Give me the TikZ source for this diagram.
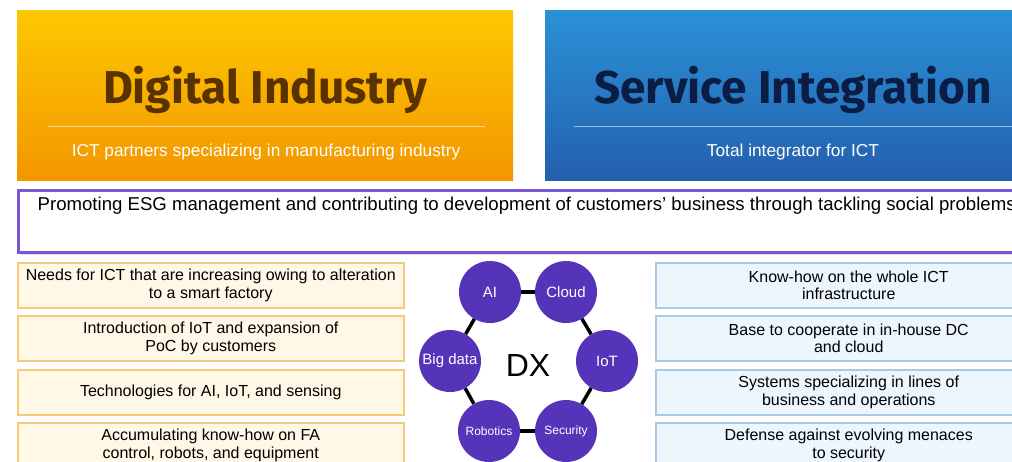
\documentclass[tikz,border=0pt]{standalone}
\usepackage{fontspec}
\setmainfont{Liberation Sans}
\newfontfamily\headfont{Fira Sans}
\usetikzlibrary{positioning,shadows}

\definecolor{diyellow}{HTML}{FDC800}
\definecolor{diorange}{HTML}{F39600}
\definecolor{dibrown}{HTML}{5A3200}
\definecolor{siblue}{HTML}{2A91D6}
\definecolor{sideep}{HTML}{2460AE}
\definecolor{sinavy}{HTML}{0B1D45}
\definecolor{esgpurple}{HTML}{7856D6}
\definecolor{dxviolet}{HTML}{5534BA}
\definecolor{needfill}{HTML}{FFF8E6}
\definecolor{needline}{HTML}{F8C978}
\definecolor{basefill}{HTML}{EEF6FD}
\definecolor{baseline}{HTML}{A9C9E9}

\tikzset{
  headbox/.style={anchor=north west, minimum width=496pt, minimum height=170pt, inner sep=0pt},
  headtitle/.style={font=\headfont\bfseries\fontsize{46}{50}\selectfont},
  headsub/.style={text=white, font=\fontsize{17.3}{20}\selectfont},
  card/.style={anchor=north west, minimum width=386pt, minimum height=45pt, inner sep=2pt,
    line width=1.5pt, align=center, font=\fontsize{16}{17.5}\selectfont},
  need/.style={card, draw=needline, fill=needfill},
  base/.style={card, draw=baseline, fill=basefill},
  tech/.style={circle, fill=dxviolet, text=white, minimum size=62pt, inner sep=0pt,
    font=\fontsize{15}{17}\selectfont},
  small tech/.style={tech, font=\fontsize{12}{14}\selectfont},
  link/.style={line width=3.5pt}
}

\begin{document}
\begin{tikzpicture}[x=1pt,y=-1pt]
\useasboundingbox (0,0) rectangle (1012,461);

% two business fields on top
\node[headbox, top color=diyellow, bottom color=diorange] (digital) at (17,10) {};
\node[headtitle, text=dibrown] (digitalname) at (265,90) {Digital Industry};
\draw[white!60!diorange, line width=1pt] (48,126) -- (485,126);
\node[headsub] (digitalsub) at (266,152) {ICT partners specializing in manufacturing industry};

\node[headbox, top color=siblue, bottom color=sideep] (service) at (545,10) {};
\node[headtitle, text=sinavy] (servicename) at (793,90) {Service Integration};
\draw[white!45!siblue, line width=1pt] (574,126) -- (1012,126);
\node[headsub] (servicesub) at (793,152) {Total integrator for ICT};

% common goal
\node[anchor=north west, minimum width=1024pt, minimum height=62pt, draw=esgpurple,
  line width=3pt, fill=white, drop shadow={opacity=0.25}] (esg) at (17,189) {};
\node[anchor=base west, inner sep=0pt, font=\fontsize{18.6}{20}\selectfont] (esgtext) at (37.5,210)
  {Promoting ESG management and contributing to development of customers’ business through tackling social problems};

% manufacturing side
\node[need] (need1) at (17,262) {Needs for ICT that are increasing owing to alteration\\to a smart factory};
\node[need] (need2) at (17,315) {Introduction of IoT and expansion of\\PoC by customers};
\node[need] (need3) at (17,369) {Technologies for AI, IoT, and sensing};
\node[need] (need4) at (17,422) {Accumulating know-how on FA\\control, robots, and equipment};

% integration side
\node[base] (base1) at (655,262) {Know-how on the whole ICT\\infrastructure};
\node[base] (base2) at (655,315) {Base to cooperate in in-house DC\\and cloud};
\node[base] (base3) at (655,369) {Systems specializing in lines of\\business and operations};
\node[base] (base4) at (655,422) {Defense against evolving menaces\\to security};

% DX ring
\node[tech] (ai) at (490,292) {AI};
\node[tech] (cloud) at (566,292) {Cloud};
\node[tech] (iot) at (607,361) {IoT};
\node[small tech] (security) at (566,431) {Security};
\node[small tech] (robotics) at (489,431) {Robotics};
\node[tech] (bigdata) at (450,361) {Big data};
\node[font=\fontsize{32}{36}\selectfont] (dx) at (528,365) {DX};

\draw[link] (ai) -- (cloud);
\draw[link] (cloud) -- (iot);
\draw[link] (iot) -- (security);
\draw[link] (security) -- (robotics);
\draw[link] (robotics) -- (bigdata);
\draw[link] (bigdata) -- (ai);
\end{tikzpicture}
\end{document}
